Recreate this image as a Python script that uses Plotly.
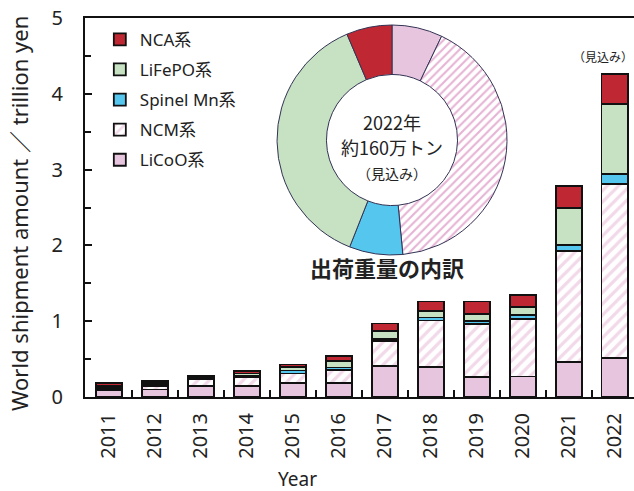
import plotly.graph_objects as go

# Yearly shipment amounts (trillion yen), stacked bottom -> top
years = ["2011", "2012", "2013", "2014", "2015", "2016",
         "2017", "2018", "2019", "2020", "2021", "2022"]
licoo = [0.09, 0.10, 0.15, 0.15, 0.18, 0.18, 0.41, 0.40, 0.26, 0.27, 0.46, 0.51]
ncm = [0.03, 0.05, 0.08, 0.11, 0.13, 0.18, 0.33, 0.61, 0.70, 0.76, 1.47, 2.30]
spinel = [0.02, 0.02, 0.02, 0.02, 0.04, 0.03, 0.03, 0.04, 0.04, 0.05, 0.08, 0.13]
lifepo = [0.01, 0.01, 0.01, 0.03, 0.05, 0.08, 0.10, 0.08, 0.09, 0.11, 0.48, 0.93]
nca = [0.04, 0.03, 0.02, 0.03, 0.03, 0.07, 0.10, 0.13, 0.17, 0.16, 0.29, 0.39]

# 2022 shipment weight breakdown (%)
pie_labels = ["LiCoO系", "NCM系", "Spinel Mn系", "LiFePO系", "NCA系"]
pie_shares = [7.1, 41.4, 7.5, 37.6, 6.4]

C_LICOO = "#e8c5de"
C_NCM = "#e6b3d4"
C_SPINEL = "#55c6ee"
C_LIFEPO = "#c6e2c2"
C_NCA = "#bf2832"

FONT = "Noto Sans, Liberation Sans, Noto Sans CJK JP, sans-serif"
CJK = "Noto Sans CJK JP, sans-serif"
TXT = "#222222"

fig = go.Figure()

series = [
    ("LiCoO系", licoo, dict(color=C_LICOO)),
    ("NCM系", ncm, dict(color="white",
                       pattern=dict(shape="/", fgcolor=C_NCM, bgcolor="white",
                                    size=8, solidity=0.4))),
    ("Spinel Mn系", spinel, dict(color=C_SPINEL)),
    ("LiFePO系", lifepo, dict(color=C_LIFEPO)),
    ("NCA系", nca, dict(color=C_NCA)),
]
n = len(series)
for i, (name, vals, mk) in enumerate(series):
    mk = dict(mk)
    mk["line"] = dict(color="#111111", width=1.8)
    # legend lists the top of the stack first
    fig.add_trace(go.Bar(x=years, y=vals, name=name, marker=mk,
                         legendgroup=f"g{n - i}", legendrank=n - i))

fig.add_trace(go.Pie(
    labels=pie_labels, values=pie_shares, sort=False, direction="clockwise",
    rotation=0, hole=0.57, textinfo="none", hoverinfo="label+percent",
    showlegend=False,
    marker=dict(
        colors=["#e8c5de", "white", C_SPINEL, C_LIFEPO, C_NCA],
        pattern=dict(shape=["", "/", "", "", ""], fgcolor=C_NCM,
                     bgcolor="white", size=6, solidity=0.35),
        line=dict(color="#333355", width=1),
    ),
    domain=dict(x=[0.3497, 0.7687], y=[0.3747, 0.9815]),
))

annotations = [
    dict(text="2022年", x=392, y=121.7, font=dict(size=18, family=CJK, color=TXT)),
    dict(text="約160万トン", x=392, y=146.7, font=dict(size=18, family=CJK, color=TXT)),
    dict(text="（見込み）", x=392, y=173.3, font=dict(size=14, family=CJK, color=TXT)),
    dict(text="<b>出荷重量の内訳</b>", x=386.5, y=266.7,
         font=dict(size=22, family=CJK, color=TXT)),
    dict(text="（見込み）", x=603, y=56.7, font=dict(size=12, family=CJK, color=TXT)),
    dict(text="Year", x=297, y=479, font=dict(size=19, family=FONT, color=TXT)),
    dict(text="World shipment amount ／ trillion yen", x=19, y=214, textangle=-90,
         font=dict(size=22, family=FONT, color=TXT)),
]
W, H = 634, 491
L, R, T, B = 85, 0, 18, 94
pw, ph = W - L - R, H - T - B
ann_list = []
for a in annotations:
    a = dict(a)
    a["x"] = (a["x"] - L) / pw
    a["y"] = (H - B - a["y"]) / ph
    a.update(xref="paper", yref="paper", showarrow=False,
             xanchor="center", yanchor="middle")
    ann_list.append(a)

fig.update_layout(
    width=W, height=H,
    margin=dict(l=L, r=R, t=T, b=B),
    barmode="stack", bargap=0.43,
    plot_bgcolor="white", paper_bgcolor="white",
    font=dict(family=FONT, color=TXT),
    annotations=ann_list,
    legend=dict(x=0.027, y=0.99, xanchor="left", yanchor="top",
                traceorder="grouped", tracegroupgap=5,
                font=dict(size=17, family=FONT, color=TXT),
                bgcolor="rgba(0,0,0,0)"),
    xaxis=dict(type="category", range=[-0.52, 11.42],
               showline=True, linecolor="#111111", linewidth=2, mirror=True,
               ticks="inside", ticklen=7, tickwidth=1.5, tickcolor="#111111",
               tickson="boundaries", tickangle=-90,
               tickfont=dict(size=20, family=FONT, color=TXT),
               ticklabelstandoff=6, showgrid=False, zeroline=False),
    yaxis=dict(range=[0, 5], dtick=1,
               showline=True, linecolor="#111111", linewidth=2,
               ticks="inside", ticklen=7, tickwidth=1.5, tickcolor="#111111",
               minor=dict(dtick=0.5, ticks="inside", ticklen=6,
                          tickcolor="#111111", tickwidth=1.5),
               tickfont=dict(size=20, family=FONT, color=TXT),
               ticklabelstandoff=16, showgrid=False, zeroline=False),
)

fig.write_html("out.html")
